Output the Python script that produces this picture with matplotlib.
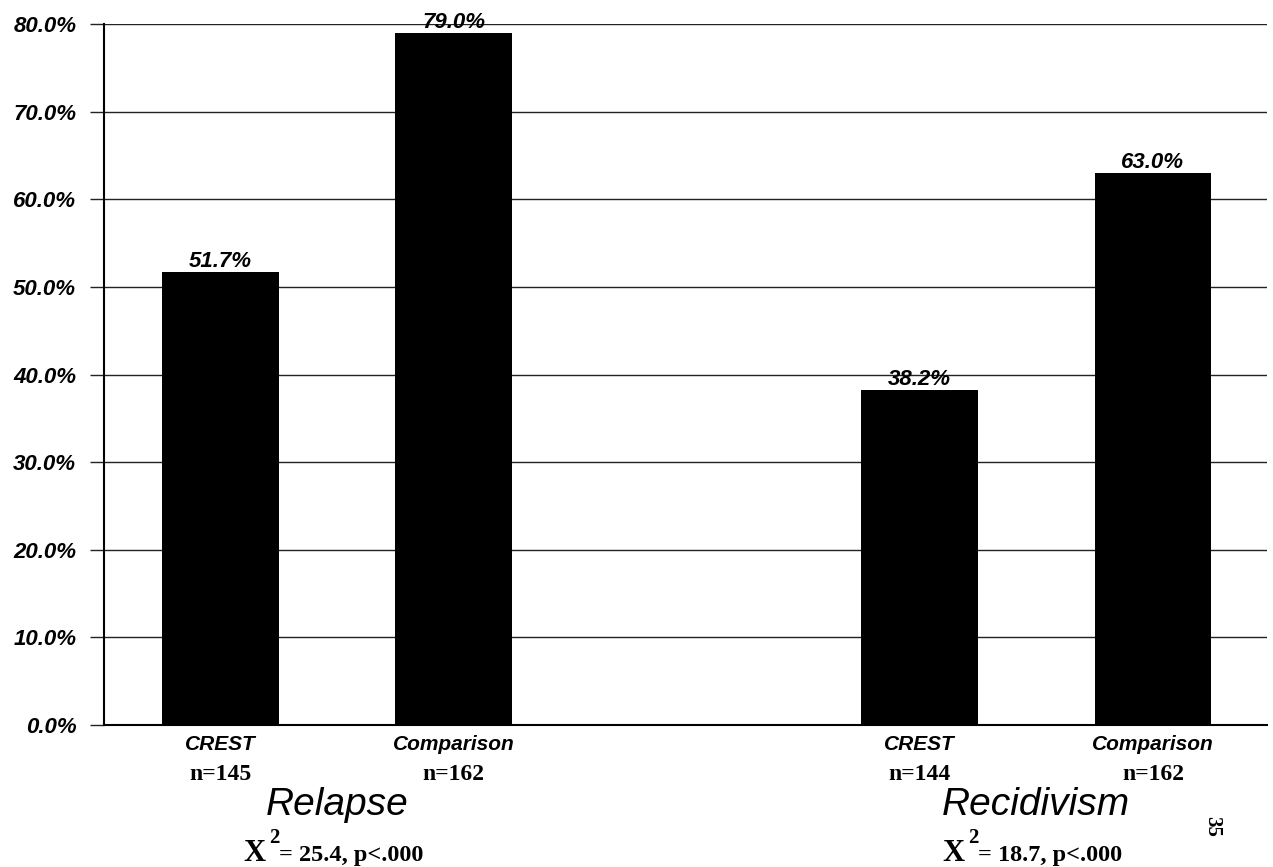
import matplotlib
matplotlib.use('Agg')
import matplotlib.pyplot as plt
from matplotlib.ticker import FuncFormatter

# data
groups = ['Relapse', 'Recidivism']
chi_labels = ['25.4', '18.7']
categories = ['CREST', 'Comparison', 'CREST', 'Comparison']
n_labels = ['n=145', 'n=162', 'n=144', 'n=162']
values = [51.7, 79.0, 38.2, 63.0]
positions = [0, 1, 3, 4]
yticks = [0, 10, 20, 30, 40, 50, 60, 70, 80]

SANS = 'Liberation Sans'
SERIF = 'Liberation Serif'

fig = plt.figure(figsize=(12.73, 8.67), dpi=100)
ax = fig.add_axes([0.0817, 0.1638, 0.9136, 0.8085])

ax.bar(positions, values, width=0.5, color='black', zorder=3)

# value labels above the bars
for x, v in zip(positions, values):
    ax.text(x, v + 0.55, f'{v:.1f}%', ha='center', va='baseline',
            family=SANS, fontsize=16, fontweight='bold', fontstyle='italic',
            zorder=4)

ax.set_ylim(0, 80)
ax.set_xlim(-0.5, 4.49)
ax.set_yticks(yticks)
ax.yaxis.set_major_formatter(FuncFormatter(lambda v, p: f'{v:.1f}%'))
for lab in ax.get_yticklabels():
    lab.set_family(SANS)
    lab.set_fontsize(16)
    lab.set_fontweight('bold')
    lab.set_fontstyle('italic')
ax.tick_params(axis='y', length=10, width=1, pad=10, color='#222222')
ax.grid(axis='y', color='#222222', linewidth=1, zorder=0)

ax.set_xticks(positions)
ax.set_xticklabels([])
ax.tick_params(axis='x', length=0)

for side in ['top', 'right']:
    ax.spines[side].set_visible(False)
ax.spines['left'].set_linewidth(1.5)
ax.spines['bottom'].set_linewidth(1.5)

tr = ax.get_xaxis_transform()
for x, c, n in zip(positions, categories, n_labels):
    ax.text(x, -0.0357, c, transform=tr, ha='center', va='baseline',
            family=SANS, fontsize=15, fontweight='bold', fontstyle='italic')
    ax.text(x, -0.0785, n, transform=tr, ha='center', va='baseline',
            family=SERIF, fontsize=17, fontweight='bold')

for i, (g, chi) in enumerate(zip(groups, chi_labels)):
    xm = (positions[2 * i] + positions[2 * i + 1]) / 2
    ax.text(xm, -0.1284, g, transform=tr, ha='center', va='baseline',
            family=SANS, fontsize=28, fontstyle='italic')
    # chi-square line: big X, raised 2, then the statistic
    ax.annotate('X', (xm, -0.194), xycoords=tr, xytext=(-51.5, 0),
                textcoords='offset points', ha='right', va='baseline',
                family=SERIF, fontsize=22, fontweight='bold')
    ax.annotate('2', (xm, -0.168), xycoords=tr, xytext=(-49, 0),
                textcoords='offset points', ha='left', va='baseline',
                family=SERIF, fontsize=15, fontweight='bold')
    ax.annotate('= ' + chi + ', p<.000', (xm, -0.194), xycoords=tr,
                xytext=(-42, 0), textcoords='offset points', ha='left',
                va='baseline', family=SERIF, fontsize=17.5, fontweight='bold')

fig.text(1212 / 1273, 1 - 826 / 867, '35', rotation=-90, ha='center',
         va='center', family=SERIF, fontsize=15, fontweight='bold')

fig.savefig('out.png', dpi=100)
